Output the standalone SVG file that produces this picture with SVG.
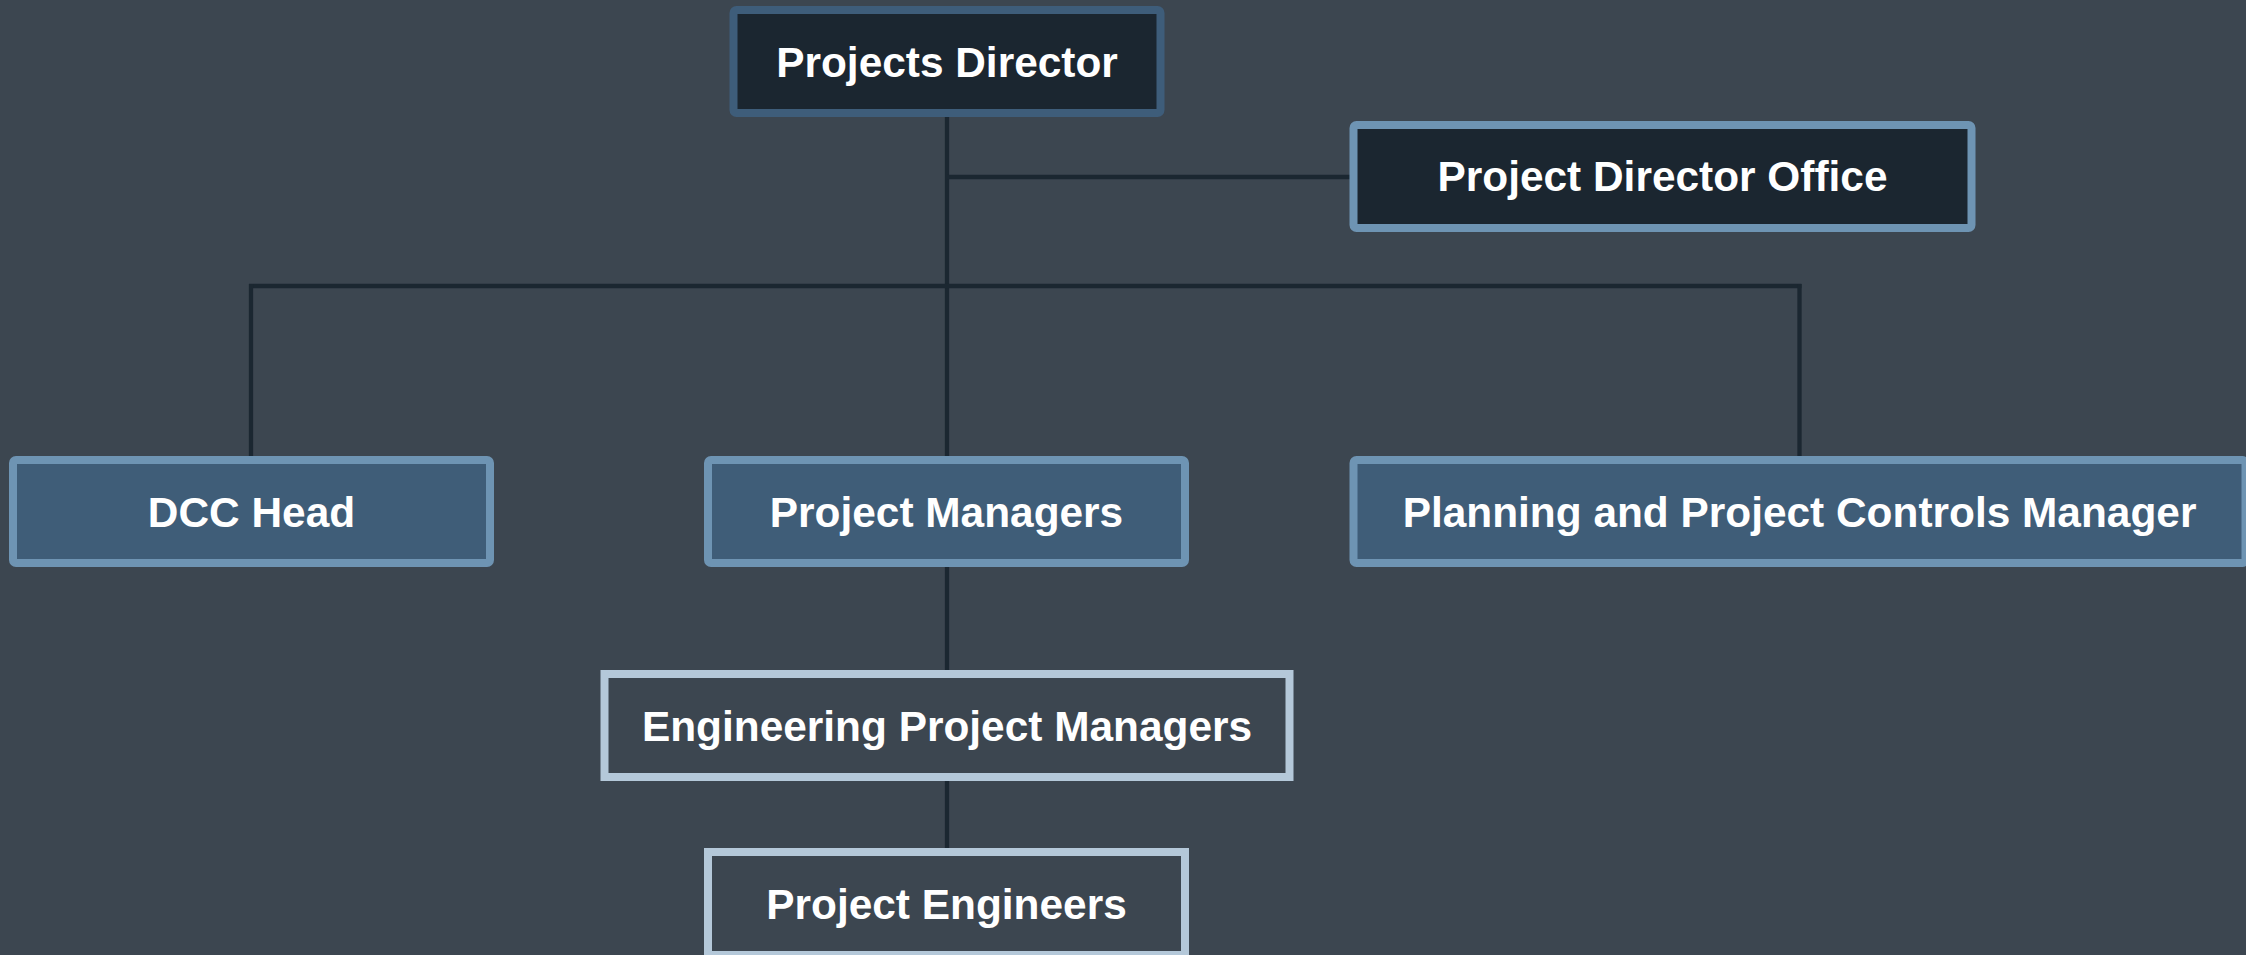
<svg xmlns="http://www.w3.org/2000/svg" width="2246" height="955" viewBox="0 0 2246 955">
  <style>
    .box rect { stroke-width: 8; }
    .dark rect { fill: #1b2630; }
    .pd rect { stroke: #3e5d7a; }
    .office rect { stroke: #6e94b3; }
    .blue rect { fill: #3f5d78; stroke: #6e94b3; }
    .light rect { fill: #3c4650; stroke: #b4c8d9; }
    .box text { font-family: "Liberation Sans", Arial, sans-serif; font-weight: bold; font-size: 42.4px; fill: #ffffff; text-anchor: middle; }
    .conn line { stroke: #1b2731; stroke-width: 4.3; fill: none; }
  </style>
  <rect x="0" y="0" width="2246" height="955" fill="#3c4650"/>

  <g id="connectors" class="conn">
    <line x1="947" y1="116" x2="947" y2="457"/>
    <line x1="947" y1="177" x2="1350" y2="177"/>
    <line x1="249" y1="286" x2="1801.5" y2="286"/>
    <line x1="251" y1="284" x2="251" y2="457"/>
    <line x1="1799.5" y1="284" x2="1799.5" y2="457"/>
    <line x1="947" y1="566" x2="947" y2="671"/>
    <line x1="947" y1="780" x2="947" y2="849"/>
  </g>

  <g id="projects-director" class="box dark pd">
    <rect x="733.5" y="10" width="427" height="103" rx="3"/>
    <text x="947" y="77">Projects Director</text>
  </g>

  <g id="project-director-office" class="box dark office">
    <rect x="1353.5" y="125" width="618" height="103" rx="3"/>
    <text x="1662.5" y="191">Project Director Office</text>
  </g>

  <g id="dcc-head" class="box blue">
    <rect x="13" y="460" width="477" height="103" rx="3"/>
    <text x="251.5" y="527">DCC Head</text>
  </g>

  <g id="project-managers" class="box blue">
    <rect x="708" y="460" width="477" height="103" rx="3"/>
    <text x="946.5" y="527">Project Managers</text>
  </g>

  <g id="planning-project-controls-manager" class="box blue">
    <rect x="1353.5" y="460" width="892" height="103" rx="3"/>
    <text x="1799.5" y="527">Planning and Project Controls Manager</text>
  </g>

  <g id="engineering-project-managers" class="box light">
    <rect x="604.5" y="674" width="685" height="103" rx="0"/>
    <text x="947" y="741">Engineering Project Managers</text>
  </g>

  <g id="project-engineers" class="box light">
    <rect x="708" y="852" width="477" height="103" rx="0"/>
    <text x="946.5" y="919">Project Engineers</text>
  </g>
</svg>
